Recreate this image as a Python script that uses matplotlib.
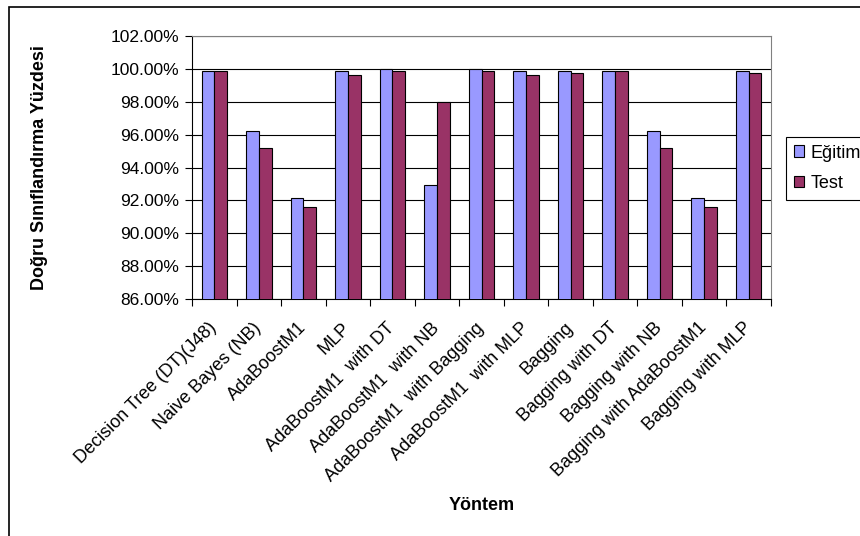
import numpy as np
import matplotlib
matplotlib.use("Agg")
import matplotlib.pyplot as plt
import matplotlib.transforms as mtransforms
from matplotlib.patches import Rectangle
from matplotlib.ticker import FuncFormatter

plt.rcParams["font.family"] = ["Liberation Sans", "DejaVu Sans"]

methods = [
    "Decision Tree (DT)(J48)", "Naive Bayes (NB)", "AdaBoostM1", "MLP",
    "AdaBoostM1  with DT", "AdaBoostM1  with NB", "AdaBoostM1  with Bagging",
    "AdaBoostM1  with MLP", "Bagging", "Bagging with DT", "Bagging with NB",
    "Bagging with AdaBoostM1", "Bagging with MLP",
]
egitim = [99.88, 96.23, 92.17, 99.88, 99.98, 92.96, 99.98, 99.88, 99.88, 99.88, 96.23, 92.17, 99.88]
test = [99.88, 95.21, 91.59, 99.63, 99.88, 98.00, 99.88, 99.63, 99.77, 99.88, 95.21, 91.59, 99.77]

W, H = 860, 536
fig = plt.figure(figsize=(W / 100, H / 100), dpi=100)
ax = fig.add_axes([192 / W, 1 - 299 / H, 579 / W, 263 / H])

x = np.arange(len(methods))
bw = 0.285
ax.bar(x - bw / 2, egitim, bw, bottom=0, color="#9999FF", edgecolor="black",
       linewidth=0.8, label="Eğitim", zorder=3)
ax.bar(x + bw / 2, test, bw, bottom=0, color="#993366", edgecolor="black",
       linewidth=0.8, label="Test", zorder=3)

ax.set_xlim(-0.5, len(methods) - 0.5)
ax.set_ylim(86, 102)
ax.set_yticks(np.arange(86, 103, 2))
ax.yaxis.set_major_formatter(FuncFormatter(lambda v, _: f"{v:.2f}%"))
ax.grid(axis="y", color="black", linewidth=0.8, zorder=0)

ax.set_xticks(x)
ax.set_xticklabels(methods, rotation=45, ha="right", va="center",
                   rotation_mode="anchor", fontsize=13)
shift = mtransforms.ScaledTranslation(-13 / 100, 0, fig.dpi_scale_trans)
for lab in ax.get_xticklabels():
    lab.set_transform(lab.get_transform() + shift)
ax.set_xticks(np.arange(-0.5, len(methods)), minor=True)
ax.tick_params(axis="x", which="major", length=0, pad=19)
ax.tick_params(axis="x", which="minor", length=5, width=0.8, direction="out")
ax.tick_params(axis="y", length=5, width=0.8, labelsize=12.5, pad=4)

for s in ("top", "right"):
    ax.spines[s].set_color("#808080")
for s in ("left", "bottom"):
    ax.spines[s].set_color("black")
    ax.spines[s].set_linewidth(0.8)

ax.set_ylabel("Doğru Sınıflandırma Yüzdesi", fontsize=13, fontweight="bold")
ax.set_xlabel("Yöntem", fontsize=13, fontweight="bold", va="center")
ax.xaxis.set_label_coords(0.5, -(505 - 299) / 263)
ax.yaxis.set_label_coords(-(192 - 48) / 579, 0.5)

leg = fig.legend(loc="upper left", bbox_to_anchor=(786 / W, 1 - 137 / H),
                 borderaxespad=0, fontsize=13, handlelength=0.6, handleheight=0.6,
                 handletextpad=0.35, labelspacing=0.75, borderpad=0.42, fancybox=False,
                 edgecolor="black", framealpha=1)
leg.get_frame().set_linewidth(0.8)

fig.add_artist(Rectangle((9 / W, -0.1), 1.2, 1.1 - 7 / H, transform=fig.transFigure,
                         fill=False, edgecolor="black", linewidth=1.2))

fig.savefig("out.png", dpi=100)
